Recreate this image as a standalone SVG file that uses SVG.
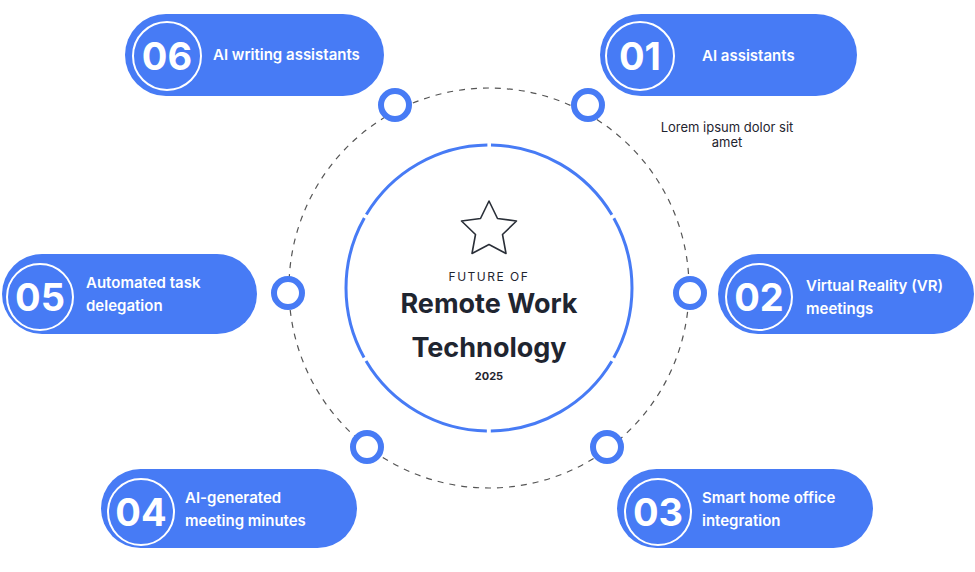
<svg xmlns="http://www.w3.org/2000/svg" width="975" height="572" viewBox="0 0 975 572">
<style>
.pill{fill:#477bf5}
.num{fill:none;stroke:#fff;stroke-width:2}
.nt{font-family:Inter,"Open Sans",sans-serif;font-weight:700;font-size:38px;fill:#fff;text-anchor:middle}
.lb{font-family:Inter,"Open Sans",sans-serif;font-weight:600;font-size:15px;fill:#fff}
.ring{fill:#fff;stroke:#477bf5;stroke-width:6}
.t{font-family:Inter,"Open Sans",sans-serif;fill:#1f2530;text-anchor:middle}
</style>
<rect width="975" height="572" fill="#fff"/>
<g id="connectors">
<circle cx="489" cy="288" r="200" fill="none" stroke="#555" stroke-width="1.2" stroke-dasharray="6 6"/>
</g>
<g id="center">
<circle cx="489" cy="288" r="143" fill="none" stroke="#477bf5" stroke-width="3" stroke-dasharray="145.75 4" stroke-dashoffset="-2" transform="rotate(-90 489 288)"/>
<path d="M489 201 l8.5 17.5 19 2.5 -14 13.5 3.5 19 -17 -9 -17 9 3.5 -19 -14 -13.5 19 -2.5z" fill="none" stroke="#2a2f38" stroke-width="1.6" stroke-linejoin="round"/>
<text class="t" x="489" y="281" font-size="12" letter-spacing="1.5">FUTURE OF</text>
<text class="t" x="489" y="313" font-size="27" font-weight="700">Remote Work</text>
<text class="t" x="489" y="357" font-size="27" font-weight="700">Technology</text>
<text class="t" x="489" y="380" font-size="11" font-weight="700">2025</text>
</g>
<g id="rings">
<circle class="ring" cx="395" cy="105" r="14"/>
<circle class="ring" cx="588" cy="105" r="14"/>
<circle class="ring" cx="288" cy="293" r="14"/>
<circle class="ring" cx="690" cy="293" r="14"/>
<circle class="ring" cx="367" cy="447" r="14"/>
<circle class="ring" cx="607" cy="447" r="14"/>
</g>
<g id="n01">
<rect class="pill" x="600" y="14" width="257" height="82" rx="41"/>
<circle class="num" cx="640" cy="56" r="34"/>
<text class="nt" x="640" y="70">01</text>
<text class="lb" x="702" y="61">AI assistants</text>
<text class="t" x="727" y="132" font-size="13">Lorem ipsum dolor sit</text>
<text class="t" x="727" y="147" font-size="13">amet</text>
</g>
<g id="n06">
<rect class="pill" x="125" y="14" width="259" height="82" rx="41"/>
<circle class="num" cx="167" cy="56" r="34"/>
<text class="nt" x="167" y="70">06</text>
<text class="lb" x="213" y="60">AI writing assistants</text>
</g>
<g id="n05">
<rect class="pill" x="2" y="254" width="255" height="80" rx="40"/>
<circle class="num" cx="40" cy="297" r="33"/>
<text class="nt" x="40" y="311">05</text>
<text class="lb" x="86" y="288">Automated task</text>
<text class="lb" x="86" y="311">delegation</text>
</g>
<g id="n02">
<rect class="pill" x="718" y="254" width="256" height="80" rx="40"/>
<circle class="num" cx="759" cy="297" r="33"/>
<text class="nt" x="759" y="311">02</text>
<text class="lb" x="806" y="291">Virtual Reality (VR)</text>
<text class="lb" x="806" y="314">meetings</text>
</g>
<g id="n04">
<rect class="pill" x="101" y="469" width="256" height="79" rx="39.5"/>
<circle class="num" cx="141" cy="512" r="33"/>
<text class="nt" x="141" y="526">04</text>
<text class="lb" x="185" y="503">AI-generated</text>
<text class="lb" x="185" y="526">meeting minutes</text>
</g>
<g id="n03">
<rect class="pill" x="617" y="469" width="256" height="79" rx="39.5"/>
<circle class="num" cx="658" cy="512" r="33"/>
<text class="nt" x="658" y="526">03</text>
<text class="lb" x="702" y="503">Smart home office</text>
<text class="lb" x="702" y="526">integration</text>
</g>
</svg>
